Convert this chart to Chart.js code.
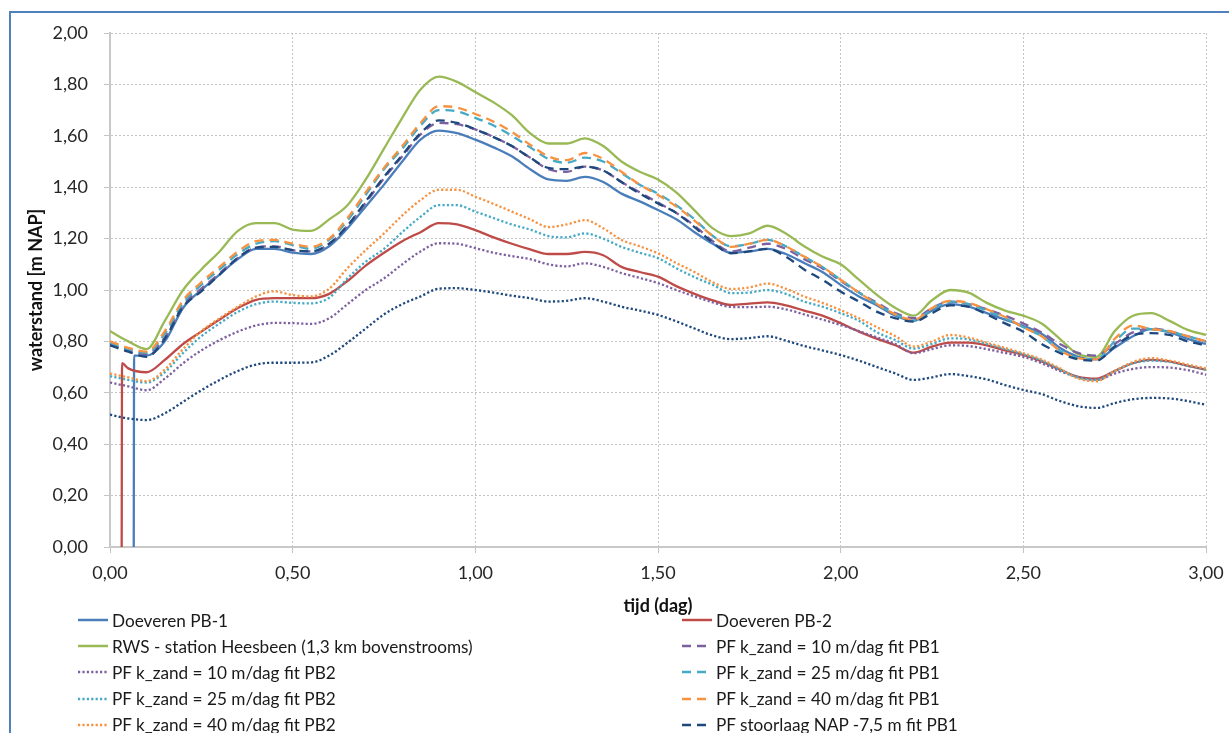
<!DOCTYPE html>
<html>
<head>
<meta charset="utf-8">
<script src="https://cdn.jsdelivr.net/npm/chart.js@4.4.0/dist/chart.umd.min.js"></script>
<style>
  html, body { margin: 0; padding: 0; background: #fff; overflow: hidden; }
  #wrap { position: relative; width: 1229px; height: 733px; overflow: hidden; }
  #frame { position: absolute; left: 9px; top: 11px; width: 1300px; height: 800px;
           border-top: 2px solid #4f81bd; border-left: 2px solid #4f81bd; }
  canvas { position: absolute; left: 0; top: 0; }
  .lg { position: absolute; height: 26px; display: flex; align-items: center;
        font-family: Lato, sans-serif; font-size: 17.2px; color: #1a1a1a; white-space: nowrap; }
  .lg svg { margin-right: 4px; }
</style>
</head>
<body>
<div id="wrap">
  <div id="frame"></div>
  <canvas id="chart" width="1229" height="733"></canvas>
  <div id="legend"></div>
</div>
<script>
// tijd (dag) grid used by RWS and the model series
const tijd = [0.00,0.05,0.10,0.15,0.20,0.25,0.30,0.35,0.40,0.45,0.50,0.55,0.60,0.65,0.70,0.75,0.80,0.85,0.90,0.95,
  1.00,1.05,1.10,1.15,1.20,1.25,1.30,1.35,1.40,1.45,1.50,1.55,1.60,1.65,1.70,1.75,1.80,1.85,1.90,1.95,
  2.00,2.05,2.10,2.15,2.20,2.25,2.30,2.35,2.40,2.45,2.50,2.55,2.60,2.65,2.70,2.75,2.80,2.85,2.90,2.95,3.00];

const xTicks = ["0,00","0,50","1,00","1,50","2,00","2,50","3,00"];
const yTicks = ["0,00","0,20","0,40","0,60","0,80","1,00","1,20","1,40","1,60","1,80","2,00"];

// measurements (start with a jump from 0)
const pb1Tijd = [0.065, 0.066].concat(tijd.slice(2));
const pb1 = [0,0.745,0.745,0.80,0.93,1.00,1.06,1.12,1.16,1.16,1.145,1.14,1.17,1.24,1.325,1.41,1.50,1.585,1.62,1.61,
  1.585,1.555,1.52,1.47,1.43,1.425,1.44,1.42,1.375,1.345,1.311,1.275,1.225,1.18,1.145,1.15,1.16,1.14,1.105,1.07,
  1.02,0.975,0.94,0.90,0.88,0.92,0.945,0.935,0.91,0.885,0.86,0.83,0.775,0.74,0.73,0.775,0.82,0.848,0.835,0.81,0.79];

const pb2Tijd = [0.032, 0.033].concat(tijd.slice(1));
const pb2 = [0,0.715,0.695,0.68,0.728,0.79,0.838,0.885,0.93,0.962,0.968,0.968,0.968,0.985,1.035,1.095,1.145,1.19,1.225,1.26,1.255,
  1.233,1.205,1.18,1.158,1.14,1.14,1.148,1.135,1.09,1.07,1.052,1.015,0.985,0.96,0.942,0.947,0.952,0.94,0.92,0.90,
  0.871,0.838,0.81,0.785,0.756,0.78,0.795,0.795,0.785,0.765,0.747,0.722,0.69,0.662,0.655,0.685,0.715,0.728,0.722,0.705,0.69];

const rws = [0.84,0.80,0.77,0.88,1.00,1.08,1.15,1.23,1.26,1.26,1.235,1.23,1.275,1.33,1.43,1.55,1.67,1.78,1.83,1.81,
  1.77,1.73,1.68,1.61,1.57,1.57,1.59,1.56,1.50,1.46,1.43,1.38,1.31,1.24,1.21,1.22,1.25,1.22,1.17,1.13,
  1.10,1.04,0.98,0.93,0.90,0.96,1.00,0.99,0.95,0.92,0.90,0.87,0.81,0.75,0.74,0.84,0.90,0.91,0.88,0.845,0.825];

// model fits
const pf10pb1 = [0.79,0.765,0.75,0.815,0.94,1.005,1.065,1.125,1.165,1.17,1.155,1.15,1.18,1.25,1.34,1.435,1.52,1.605,1.65,1.645,
  1.625,1.595,1.56,1.515,1.47,1.46,1.48,1.465,1.42,1.38,1.34,1.30,1.25,1.19,1.15,1.165,1.18,1.16,1.12,1.085,
  1.035,0.99,0.95,0.91,0.89,0.93,0.955,0.945,0.925,0.90,0.87,0.835,0.79,0.755,0.745,0.79,0.835,0.85,0.84,0.82,0.80];
const pf25pb1 = [0.795,0.77,0.755,0.83,0.95,1.02,1.08,1.14,1.18,1.19,1.175,1.16,1.195,1.27,1.37,1.47,1.55,1.64,1.70,1.695,
  1.67,1.64,1.60,1.555,1.51,1.495,1.515,1.50,1.455,1.41,1.375,1.33,1.275,1.21,1.17,1.18,1.195,1.17,1.13,1.09,
  1.04,0.99,0.945,0.905,0.88,0.925,0.955,0.945,0.92,0.89,0.855,0.82,0.765,0.735,0.73,0.80,0.85,0.848,0.838,0.82,0.80];
const pf40pb1 = [0.80,0.775,0.76,0.84,0.96,1.03,1.09,1.15,1.19,1.195,1.18,1.168,1.20,1.28,1.38,1.475,1.56,1.65,1.715,1.71,
  1.685,1.655,1.615,1.565,1.52,1.505,1.533,1.51,1.46,1.41,1.37,1.325,1.27,1.21,1.168,1.18,1.195,1.17,1.13,1.09,
  1.04,0.99,0.945,0.905,0.883,0.93,0.958,0.95,0.925,0.895,0.855,0.82,0.765,0.735,0.73,0.81,0.862,0.848,0.84,0.82,0.80];
const stoorPb1 = [0.785,0.76,0.74,0.81,0.935,0.995,1.06,1.125,1.165,1.168,1.155,1.15,1.18,1.25,1.345,1.44,1.525,1.61,1.66,1.65,
  1.625,1.595,1.56,1.515,1.475,1.47,1.48,1.465,1.42,1.375,1.337,1.30,1.245,1.185,1.143,1.15,1.16,1.13,1.08,1.04,
  0.994,0.955,0.915,0.89,0.877,0.91,0.94,0.935,0.905,0.87,0.838,0.79,0.755,0.73,0.725,0.78,0.825,0.832,0.825,0.80,0.785];
const pf10pb2 = [0.64,0.625,0.61,0.655,0.715,0.765,0.805,0.838,0.862,0.872,0.871,0.868,0.89,0.945,1.0,1.045,1.10,1.15,1.182,1.18,
  1.163,1.145,1.132,1.12,1.10,1.092,1.104,1.09,1.066,1.047,1.027,1.0,0.975,0.952,0.934,0.933,0.935,0.925,0.905,0.885,
  0.864,0.84,0.815,0.79,0.754,0.77,0.785,0.782,0.77,0.755,0.74,0.715,0.685,0.66,0.65,0.675,0.693,0.70,0.698,0.688,0.67];
const pf25pb2 = [0.665,0.65,0.64,0.68,0.755,0.82,0.87,0.915,0.945,0.955,0.95,0.948,0.97,1.045,1.11,1.16,1.225,1.285,1.33,1.33,
  1.305,1.28,1.255,1.235,1.21,1.205,1.22,1.20,1.168,1.145,1.124,1.085,1.05,1.02,0.988,0.99,1.0,0.985,0.955,0.935,
  0.91,0.88,0.835,0.805,0.772,0.79,0.812,0.808,0.79,0.77,0.75,0.725,0.69,0.66,0.65,0.685,0.715,0.725,0.72,0.705,0.69];
const pf40pb2 = [0.675,0.66,0.645,0.69,0.77,0.84,0.89,0.935,0.975,0.995,0.98,0.975,1.005,1.085,1.155,1.22,1.29,1.35,1.39,1.39,
  1.363,1.335,1.305,1.275,1.245,1.255,1.272,1.24,1.195,1.17,1.143,1.105,1.07,1.03,1.004,1.01,1.025,1.005,0.975,0.95,
  0.922,0.89,0.855,0.82,0.78,0.80,0.825,0.815,0.795,0.775,0.754,0.73,0.695,0.655,0.645,0.685,0.72,0.735,0.725,0.71,0.695];
const stoorPb2 = [0.515,0.50,0.494,0.52,0.565,0.61,0.65,0.685,0.71,0.717,0.717,0.718,0.745,0.795,0.85,0.905,0.945,0.975,1.005,1.007,
  1.0,0.99,0.978,0.968,0.955,0.958,0.968,0.955,0.935,0.92,0.903,0.878,0.85,0.823,0.809,0.813,0.82,0.803,0.782,0.765,
  0.747,0.725,0.70,0.675,0.65,0.66,0.673,0.665,0.652,0.63,0.611,0.595,0.568,0.548,0.541,0.56,0.575,0.58,0.578,0.568,0.553];

const SOLID = [], DASH = [9, 6], DOT = [2.2, 2.2];

const series = [
  { label: "Doeveren PB-1", x: pb1Tijd, y: pb1, color: "#4a7ebb", dash: SOLID },
  { label: "Doeveren PB-2", x: pb2Tijd, y: pb2, color: "#be4b48", dash: SOLID },
  { label: "RWS - station Heesbeen (1,3 km bovenstrooms)", x: tijd, y: rws, color: "#98b954", dash: SOLID },
  { label: "PF k_zand = 10 m/dag fit PB1", x: tijd, y: pf10pb1, color: "#7d60a0", dash: DASH },
  { label: "PF k_zand = 10 m/dag fit PB2", x: tijd, y: pf10pb2, color: "#7d60a0", dash: DOT },
  { label: "PF k_zand = 25 m/dag fit PB1", x: tijd, y: pf25pb1, color: "#46aac5", dash: DASH },
  { label: "PF k_zand = 25 m/dag fit PB2", x: tijd, y: pf25pb2, color: "#46aac5", dash: DOT },
  { label: "PF k_zand = 40 m/dag fit PB1", x: tijd, y: pf40pb1, color: "#f69240", dash: DASH },
  { label: "PF k_zand = 40 m/dag fit PB2", x: tijd, y: pf40pb2, color: "#f69240", dash: DOT },
  { label: "PF stoorlaag NAP -7,5 m fit PB1", x: tijd, y: stoorPb1, color: "#1f497d", dash: DASH },
  { label: "PF stoorlaag NAP -7,5 m fit PB2", x: tijd, y: stoorPb2, color: "#1f497d", dash: DOT }
];

window.onload = function () {
  Chart.defaults.font.family = "Lato";
  const datasets = series.map((s, i) => ({
    label: s.label,
    data: s.x.map((t, k) => ({ x: t, y: s.y[k] })),
    borderColor: s.color,
    borderWidth: 2.3,
    borderDash: s.dash,
    pointRadius: 0,
    cubicInterpolationMode: "monotone",
    fill: false,
    order: -i
  }));

  const ctx = document.getElementById("chart").getContext("2d");
  new Chart(ctx, {
    type: "line",
    data: { datasets: datasets },
    options: {
      responsive: false,
      animation: false,
      layout: { padding: { left: 0, top: 33, right: 23, bottom: 116 } },
      plugins: { legend: { display: false }, tooltip: { enabled: false } },
      scales: {
        x: {
          type: "linear", min: 0, max: 3,
          afterFit: s => { s.height = 70; s.paddingLeft = 0; s.paddingRight = 0; },
          ticks: { stepSize: 0.5, padding: 9, color: "#262626", font: { size: 18 },
                   callback: v => xTicks[Math.round(v * 2)] },
          grid: { color: "#c4c4c4", lineWidth: 1, tickLength: 6, tickColor: "#c4c4c4" },
          border: { color: "#c8c8c8", width: 2, dash: [2, 2] },
          title: { display: true, text: "tijd (dag)", color: "#111", padding: { top: 0, bottom: 0 },
                   font: { size: 18, weight: "bold" } }
        },
        y: {
          min: 0, max: 2,
          afterFit: s => { s.width = 110; },
          ticks: { stepSize: 0.2, padding: 16, color: "#262626", font: { size: 18 },
                   callback: v => yTicks[Math.round(v * 5)] },
          grid: { color: "#c4c4c4", lineWidth: 1, tickLength: 6, tickColor: "#c4c4c4" },
          border: { color: "#c8c8c8", width: 2, dash: [2, 2] },
          title: { display: true, text: "waterstand [m NAP]", color: "#111", padding: { top: 25, bottom: 0 },
                   font: { size: 18, weight: "bold" } }
        }
      }
    }
  });

  // legend in two columns, as in the original figure
  const box = document.getElementById("legend");
  series.forEach((s, i) => {
    const col = i % 2, row = Math.floor(i / 2);
    const item = document.createElement("div");
    item.className = "lg";
    item.style.left = (col === 0 ? 78 : 682) + "px";
    item.style.top = (607 + row * 26.2) + "px";
    item.innerHTML = '<svg width="30" height="10"><line x1="0" y1="5" x2="30" y2="5" stroke="' + s.color +
      '" stroke-width="2.5" stroke-dasharray="' + (s.dash.length ? s.dash.join(",") : "none") + '"/></svg>';
    const span = document.createElement("span");
    span.textContent = s.label;
    item.appendChild(span);
    box.appendChild(item);
  });
};
</script>
</body>
</html>
